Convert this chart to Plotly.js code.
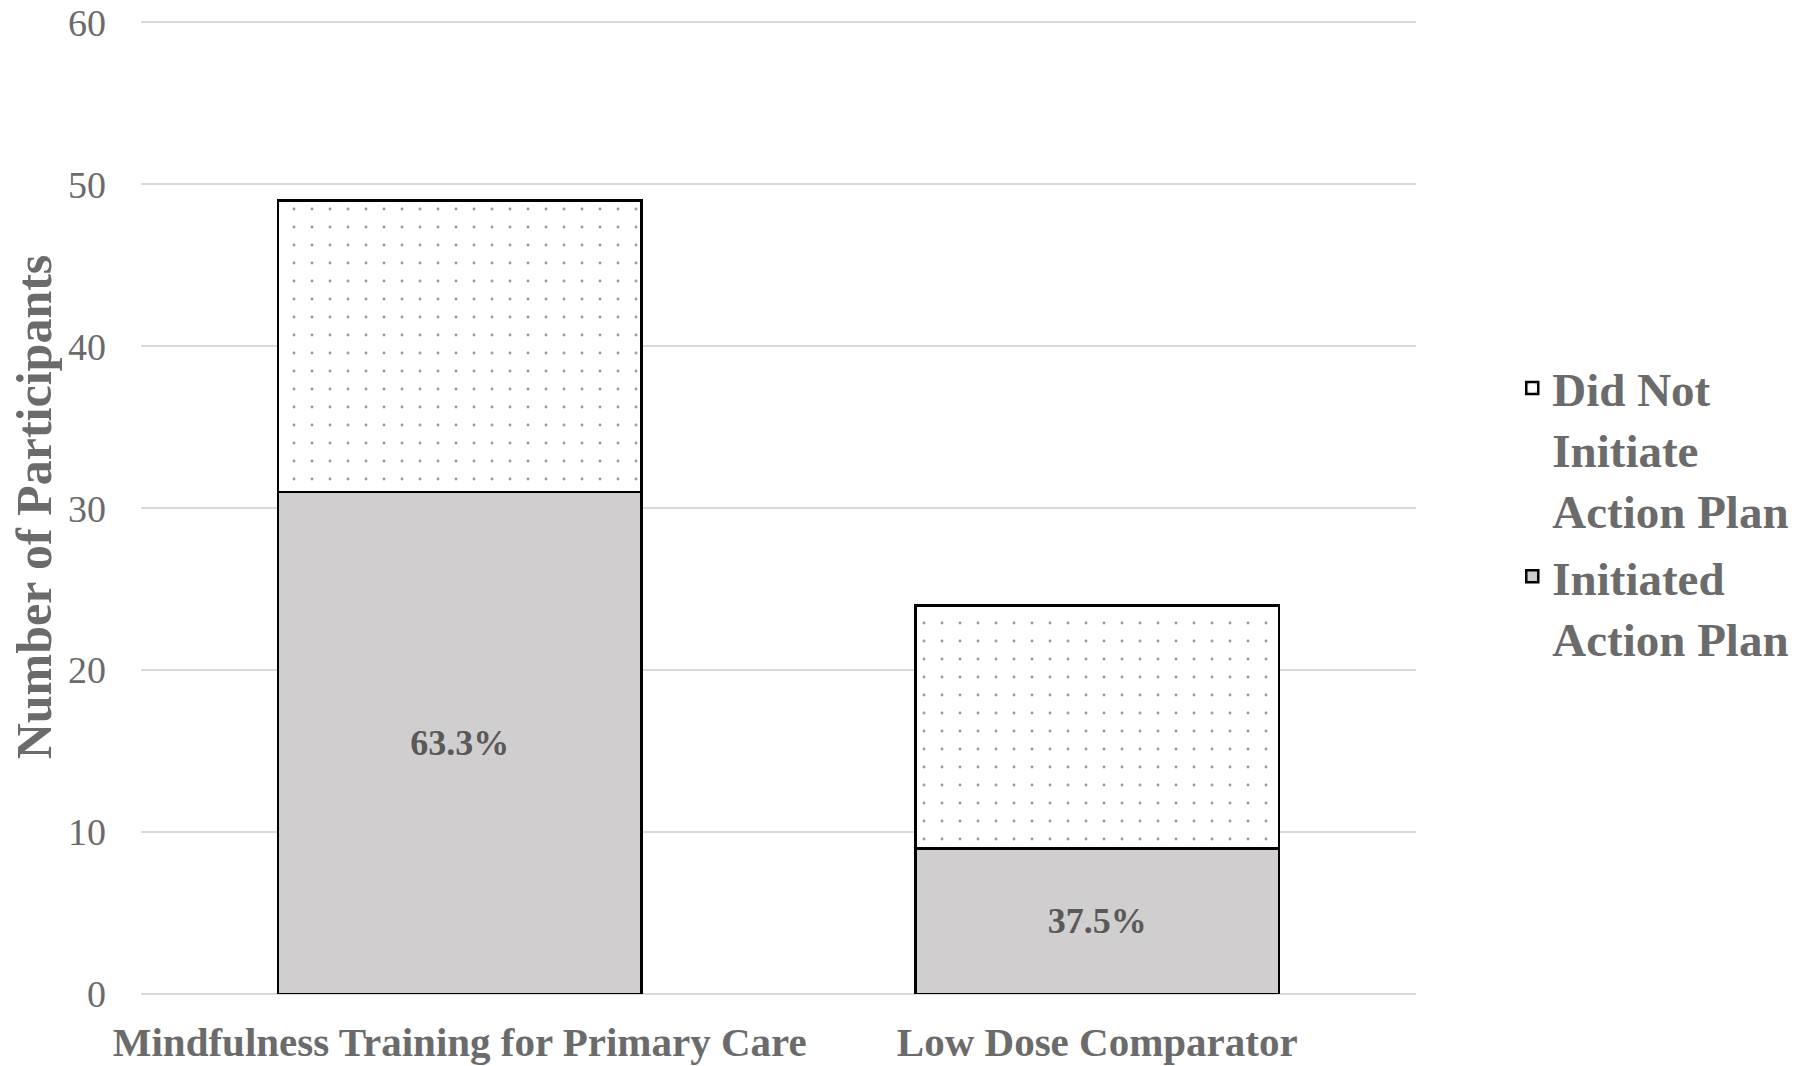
<!DOCTYPE html>
<html>
<head>
<meta charset="utf-8">
<script src="https://cdn.plot.ly/plotly-3.0.1.min.js"></script>
<style>html,body{margin:0;padding:0;background:#fff;}#chart{width:1800px;height:1066px;}</style>
</head>
<body>
<div id="chart"></div>
<script>
const categories = ["Mindfulness Training for Primary Care", "Low Dose Comparator"];
const initiated = [31, 9];
const didNotInitiate = [18, 15];
const seriesNames = ["Initiated<br>Action Plan", "Did Not<br>Initiate<br>Action Plan"];
const yTicks = [0, 10, 20, 30, 40, 50, 60];

const pctLabels = initiated.map((v, i) => (v / (v + didNotInitiate[i]) * 100).toFixed(1) + "%");

const FONT = "Liberation Serif, Times New Roman, serif";

const traces = [
  {
    type: "bar",
    name: seriesNames[0],
    legendgroup: "a",
    legendrank: 2,
    x: categories,
    y: initiated,
    text: pctLabels,
    textposition: "inside",
    insidetextanchor: "middle",
    textangle: 0,
    textfont: {family: FONT, size: 36, color: "#595959", weight: "bold"},
    marker: {color: "#d0cecf", line: {color: "#000000", width: 2.5}},
    hoverinfo: "x+y"
  },
  {
    type: "bar",
    name: seriesNames[1],
    legendgroup: "b",
    legendrank: 1,
    x: categories,
    y: didNotInitiate,
    marker: {
      color: "#ffffff",
      line: {color: "#000000", width: 2.5},
      pattern: {shape: ".", fgcolor: "#9a9a9a", bgcolor: "#ffffff", size: 18, solidity: 0.02}
    },
    hoverinfo: "x+y"
  }
];

const layout = {
  width: 1800,
  height: 1066,
  paper_bgcolor: "#ffffff",
  plot_bgcolor: "#ffffff",
  barmode: "stack",
  bargap: 0.43,
  margin: {l: 141, r: 384, t: 20, b: 72, autoexpand: false},
  font: {family: FONT, color: "#6b6b6b"},
  xaxis: {
    type: "category",
    tickfont: {family: FONT, size: 41, color: "#6b6b6b", weight: "bold"},
    showgrid: false,
    showline: false,
    ticks: "",
    ticklabelstandoff: 20,
    automargin: false
  },
  yaxis: {
    range: [0, 60.15],
    tickvals: yTicks,
    ticktext: yTicks.map(String),
    tickfont: {family: FONT, size: 38, color: "#6b6b6b"},
    ticklabeloverflow: "allow",
    showgrid: true,
    gridcolor: "#d9d9d9",
    gridwidth: 2,
    zeroline: true,
    zerolinecolor: "#d9d9d9",
    zerolinewidth: 2,
    showline: false,
    ticks: "",
    ticklabelstandoff: 34,
    automargin: false,
    title: {text: "Number of Participants", font: {family: FONT, size: 50, color: "#6b6b6b", weight: "bold"}, standoff: 0}
  },
  legend: {
    x: 1.0755,
    xanchor: "left",
    y: 0.494,
    yanchor: "middle",
    traceorder: "grouped",
    tracegroupgap: 2,
    valign: "top",
    font: {family: FONT, size: 47, color: "#6b6b6b", weight: "bold"},
    bgcolor: "rgba(0,0,0,0)"
  },
  showlegend: true
};

Plotly.newPlot("chart", traces, layout, {displayModeBar: false, staticPlot: true});
</script>
</body>
</html>
